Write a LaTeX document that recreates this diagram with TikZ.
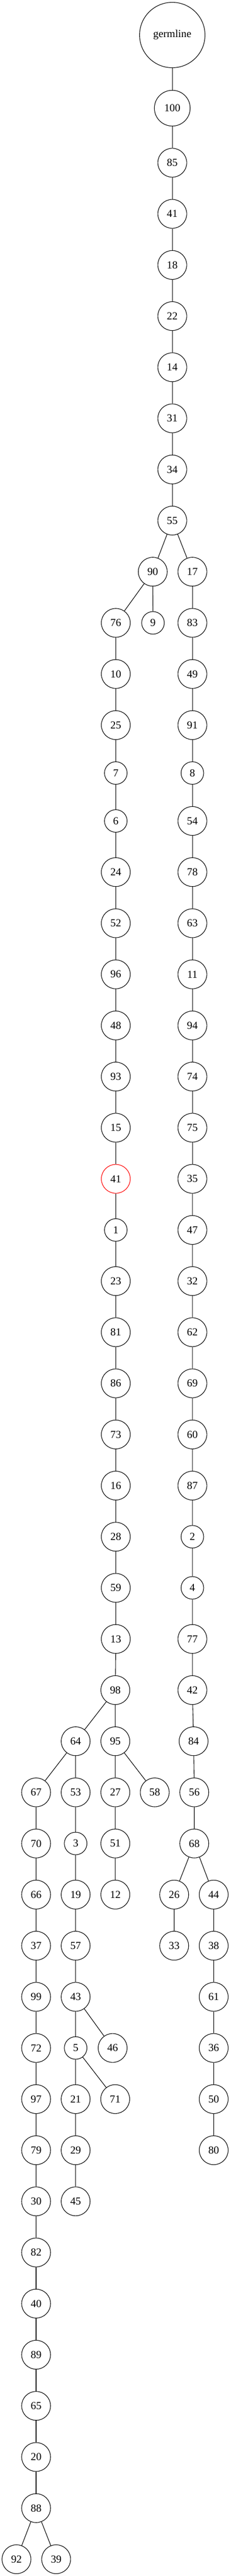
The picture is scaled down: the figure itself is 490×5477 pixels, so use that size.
\documentclass[tikz,border=0pt]{standalone}
\usepackage{fontspec}
\setmainfont{Liberation Serif}
\begin{document}
\begin{tikzpicture}[x=0.5pt,y=-0.5pt,line width=0.6pt]
  \tikzset{
  v/.style={circle,draw,inner sep=0pt,minimum size=30.7pt,font=\fontsize{11.4}{13}\selectfont},
  vs/.style={v,minimum size=24pt},
  vb/.style={v,minimum size=38pt},
  }
  \useasboundingbox (0,0) rectangle (490,5477);
  % the trunk
  \node[v,minimum size=69.5pt] (germ) at (366,74.5) {germline};
  \node[vb] (n100) at (366,230) {100};
  \node[v] (n85) at (366,346) {85};
  \node[v] (n41) at (366,454.7) {41};
  \node[v] (n18) at (366,563.4) {18};
  \node[v] (n22) at (366,672.1) {22};
  \node[v] (n14) at (366,780.8) {14};
  \node[v] (n31) at (366,889.5) {31};
  \node[v] (n34) at (366,998.2) {34};
  \node[v] (n55) at (366,1106.9) {55};

  % the left branch
  \node[v] (n90) at (324.5,1215.6) {90};
  \node[v] (n76) at (246,1324.3) {76};
  \node[vs] (n9) at (325,1324.3) {9};
  \node[v] (n10) at (246,1433) {10};
  \node[v] (n25) at (246,1541.7) {25};
  \node[vs] (n7) at (246,1643.6) {7};
  \node[vs] (n6) at (246,1745.5) {6};
  \node[v] (n24) at (246,1854.2) {24};
  \node[v] (n52) at (246,1962.9) {52};
  \node[v] (n96) at (246,2071.6) {96};
  \node[v] (n48) at (246,2180.3) {48};
  \node[v] (n93) at (246,2289) {93};
  \node[v] (n15) at (246,2397.7) {15};
  \node[v,draw=red] (n41r) at (246,2506.4) {41};
  \node[vs] (n1) at (246,2615.1) {1};
  \node[v] (n23) at (246,2723.8) {23};
  \node[v] (n81) at (246,2832.5) {81};
  \node[v] (n86) at (246,2941.2) {86};
  \node[v] (n73) at (246,3049.9) {73};
  \node[v] (n16) at (246,3158.6) {16};
  \node[v] (n28) at (246,3267.3) {28};
  \node[v] (n59) at (246,3376) {59};
  \node[v] (n13) at (246,3484.7) {13};
  \node[v] (n98) at (245,3593.4) {98};
  \node[v] (n64) at (160.7,3702.1) {64};
  \node[v] (n95) at (245,3702.1) {95};
  \node[v] (n67) at (76.7,3810.8) {67};
  \node[v] (n53) at (160.7,3810.8) {53};
  \node[v] (n27) at (245,3810.8) {27};
  \node[v] (n58) at (328.7,3810.8) {58};
  \node[v] (n70) at (76.7,3919.5) {70};
  \node[vs] (n3) at (160.7,3919.5) {3};
  \node[v] (n51) at (245,3919.5) {51};
  \node[v] (n66) at (76.7,4028.2) {66};
  \node[v] (n19) at (160.7,4028.2) {19};
  \node[v] (n12) at (245,4028.2) {12};
  \node[v] (n37) at (76.7,4136.9) {37};
  \node[v] (n57) at (160.7,4136.9) {57};
  \node[v] (n99) at (76.7,4245.6) {99};
  \node[v] (n43) at (160.7,4245.6) {43};
  \node[v] (n72) at (76.7,4354.3) {72};
  \node[vs] (n5) at (160.7,4354.3) {5};
  \node[v] (n46) at (239.3,4354.3) {46};
  \node[v] (n97) at (76.7,4463) {97};
  \node[v] (n21) at (160.7,4463) {21};
  \node[v] (n71) at (244.7,4463) {71};
  \node[v] (n79) at (76.7,4571.7) {79};
  \node[v] (n29) at (160.7,4571.7) {29};
  \node[v] (n30) at (76.7,4680.4) {30};
  \node[v] (n45) at (160.7,4680.4) {45};
  \node[v] (n82) at (76.7,4789.1) {82};
  \node[v] (n40) at (76.7,4897.8) {40};
  \node[v] (n89) at (76.7,5006.5) {89};
  \node[v] (n65) at (76.7,5115.2) {65};
  \node[v] (n20) at (76.7,5223.9) {20};
  \node[v] (n88) at (76.7,5332.6) {88};
  \node[v] (n92) at (35,5441.3) {92};
  \node[v] (n39) at (119.3,5441.3) {39};

  % the right branch
  \node[v] (n17) at (408.7,1215.6) {17};
  \node[v] (n83) at (408.7,1324.3) {83};
  \node[v] (n49) at (408.7,1433) {49};
  \node[v] (n91) at (408.7,1541.7) {91};
  \node[vs] (n8) at (408.7,1643.6) {8};
  \node[v] (n54) at (408.7,1745.5) {54};
  \node[v] (n78) at (408.7,1854.2) {78};
  \node[v] (n63) at (408.7,1962.9) {63};
  \node[v] (n11) at (408.7,2071.6) {11};
  \node[v] (n94) at (408.7,2180.3) {94};
  \node[v] (n74) at (408.7,2289) {74};
  \node[v] (n75) at (408.7,2397.7) {75};
  \node[v] (n35) at (408.7,2506.4) {35};
  \node[v] (n47) at (408.7,2615.1) {47};
  \node[v] (n32) at (408.7,2723.8) {32};
  \node[v] (n62) at (408.7,2832.5) {62};
  \node[v] (n69) at (408.7,2941.2) {69};
  \node[v] (n60) at (408.7,3049.9) {60};
  \node[v] (n87) at (408.7,3158.6) {87};
  \node[vs] (n2) at (408.7,3267.3) {2};
  \node[vs] (n4) at (408.7,3376) {4};
  \node[v] (n77) at (408.7,3484.7) {77};
  \node[v] (n42) at (408.7,3593.4) {42};
  \node[v] (n84) at (411.3,3702.1) {84};
  \node[v] (n56) at (412.7,3810.8) {56};
  \node[v] (n68) at (412.7,3919.5) {68};
  \node[v] (n26) at (370,4028.2) {26};
  \node[v] (n44) at (454,4028.2) {44};
  \node[v] (n33) at (370,4136.9) {33};
  \node[v] (n38) at (454,4136.9) {38};
  \node[v] (n61) at (454,4245.6) {61};
  \node[v] (n36) at (454,4354.3) {36};
  \node[v] (n50) at (454,4463) {50};
  \node[v] (n80) at (454,4571.7) {80};

  % the connection between the dots
  \draw (germ) -- (n100) -- (n85) -- (n41) -- (n18) -- (n22) -- (n14) -- (n31) -- (n34) -- (n55);
  \draw (n55) -- (n90);
  \draw (n55) -- (n17);
  \draw (n90) -- (n9);
  \draw (n90) -- (n76) -- (n10) -- (n25) -- (n7) -- (n6) -- (n24) -- (n52) -- (n96) -- (n48) -- (n93) -- (n15) -- (n41r);
  \draw (n41r) -- (n1) -- (n23) -- (n81) -- (n86) -- (n73) -- (n16) -- (n28) -- (n59) -- (n13) -- (n98);
  \draw (n98) -- (n64);
  \draw (n98) -- (n95);
  \draw (n64) -- (n67) -- (n70) -- (n66) -- (n37) -- (n99) -- (n72) -- (n97) -- (n79) -- (n30) -- (n82);
  \draw (n82) -- (n40) -- (n89) -- (n65) -- (n20) -- (n88);
  \draw (n88) -- (n92);
  \draw (n88) -- (n39);
  \draw (n64) -- (n53) -- (n3) -- (n19) -- (n57) -- (n43) -- (n5) -- (n21) -- (n29) -- (n45);
  \draw (n43) -- (n46);
  \draw (n5) -- (n71);
  \draw (n95) -- (n27) -- (n51) -- (n12);
  \draw (n95) -- (n58);
  \draw (n17) -- (n83) -- (n49) -- (n91) -- (n8) -- (n54) -- (n78) -- (n63) -- (n11) -- (n94) -- (n74) -- (n75) -- (n35);
  \draw (n35) -- (n47) -- (n32) -- (n62) -- (n69) -- (n60) -- (n87) -- (n2) -- (n4) -- (n77) -- (n42) -- (n84) -- (n56) -- (n68);
  \draw (n68) -- (n26) -- (n33);
  \draw (n68) -- (n44) -- (n38) -- (n61) -- (n36) -- (n50) -- (n80);
\end{tikzpicture}
\end{document}
